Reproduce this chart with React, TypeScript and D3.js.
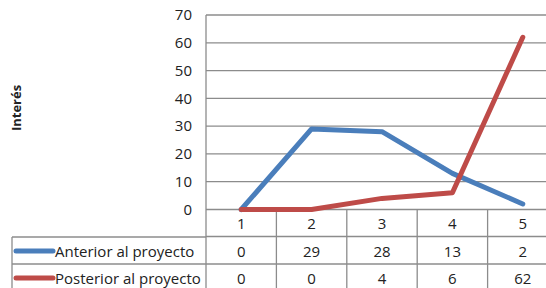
import React from "react";
import * as d3 from "d3";

const categories = ["1", "2", "3", "4", "5"];
const seriesNames = ["Anterior al proyecto", "Posterior al proyecto"];
const anterior = [0, 29, 28, 13, 2];
const posterior = [0, 0, 4, 6, 62];
const yTicks = [0, 10, 20, 30, 40, 50, 60, 70];
const colors = ["#4A7EBB", "#BE4B48"];

export default function App() {
  const W = 546, H = 288;
  const left = 206;
  const colW = 70.4;
  const right = left + colW * categories.length;
  const y = d3.scaleLinear().domain([0, 70]).range([209.5, 15]);
  const x = d3.scaleBand().domain(categories).range([left, right]);
  const cx = (c: string) => (x(c) as number) + x.bandwidth() / 2;
  const series = [anterior, posterior];
  const line = d3.line<number>().x((_, i) => cx(categories[i])).y((v) => y(v));
  const rowTops = [209.5, 237, 264];
  const rowH = 27;
  const grid = "#8C8C8C";
  const font = "'Open Sans', sans-serif";
  const fs = 15;
  return (
    <svg width={W} height={H} style={{ position: "absolute", left: 0, top: 0, background: "#fff" }} fontFamily={font}>
      {yTicks.map((t) => (
        <g key={t}>
          <line x1={left} x2={right} y1={y(t)} y2={y(t)} stroke={grid} strokeWidth={1.3} />
          <text x={192} y={y(t)} dy="0.35em" textAnchor="end" fontSize={fs} fill="#222">{t}</text>
        </g>
      ))}
      <line x1={left} x2={left} y1={y(70)} y2={H} stroke={grid} strokeWidth={1.3} />
      {[rowTops[0] + rowH, rowTops[1] + rowH, rowTops[2] + rowH].map((yy, i) => (
        <line key={i} x1={i === 0 ? left : 12} x2={right} y1={yy} y2={yy} stroke={grid} strokeWidth={1.3} />
      ))}
      <line x1={12} x2={left} y1={rowTops[1]} y2={rowTops[1]} stroke={grid} strokeWidth={1.3} />
      <line x1={12} x2={12} y1={rowTops[1]} y2={H} stroke={grid} strokeWidth={1.3} />
      {categories.map((c) => (
        <line key={c} x1={(x(c) as number) + x.bandwidth()} x2={(x(c) as number) + x.bandwidth()} y1={rowTops[0]} y2={H} stroke={grid} strokeWidth={1.3} />
      ))}
      {categories.map((c) => (
        <text key={c} x={cx(c)} y={rowTops[0] + rowH / 2 + 1} dy="0.35em" textAnchor="middle" fontSize={fs} fill="#222">{c}</text>
      ))}
      {series.map((s, si) => (
        <g key={si}>
          <line x1={16} x2={53} y1={rowTops[si + 1] + rowH / 2 + 0.5} y2={rowTops[si + 1] + rowH / 2 + 0.5} stroke={colors[si]} strokeWidth={5} strokeLinecap="round" />
          <text x={55} y={rowTops[si + 1] + rowH / 2 + 1} dy="0.35em" fontSize={fs} fill="#222">{seriesNames[si]}</text>
          {s.map((v, i) => (
            <text key={i} x={cx(categories[i])} y={rowTops[si + 1] + rowH / 2 + 1} dy="0.35em" textAnchor="middle" fontSize={fs} fill="#222">{v}</text>
          ))}
        </g>
      ))}
      {series.map((s, si) => (
        <path key={si} d={line(s) as string} fill="none" stroke={colors[si]} strokeWidth={5} strokeLinecap="round" strokeLinejoin="round" />
      ))}
      <text transform="translate(21,108) rotate(-90)" textAnchor="middle" fontSize={13} fontWeight="bold" fill="#222">Interés</text>
    </svg>
  );
}
